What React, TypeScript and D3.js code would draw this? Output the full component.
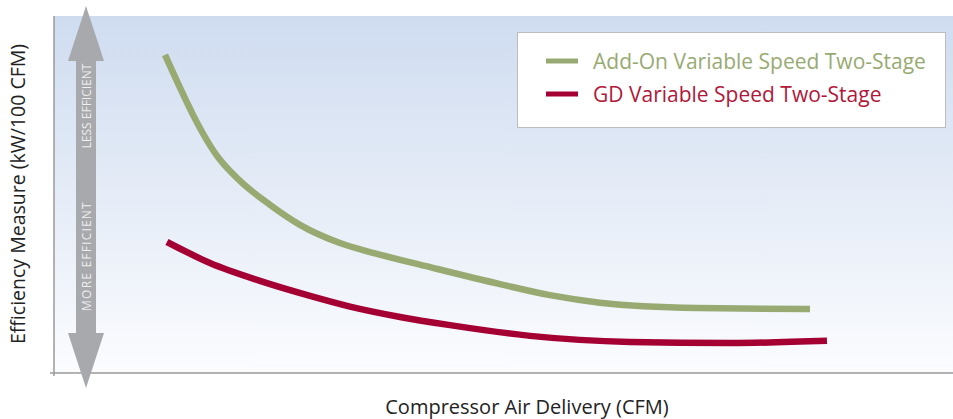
import { useEffect, useRef } from 'react'
import * as d3 from 'd3'

// values (x: relative CFM 0-100, y: relative kW/100 CFM 0-10)
const addOnX = [12.35, 18.47, 20.69, 24.03, 27.36, 31.81, 35.71, 41.27, 49.61, 55.17, 60.73, 71.52, 84.09]
const addOnY = [8.91, 5.97, 5.38, 4.71, 4.15, 3.64, 3.35, 3.0, 2.49, 2.18, 1.97, 1.82, 1.79]
const gdX = [12.57, 17.35, 22.91, 28.48, 32.93, 38.49, 44.05, 52.95, 64.07, 75.2, 85.98]
const gdY = [3.67, 3.08, 2.58, 2.16, 1.86, 1.57, 1.34, 1.04, 0.87, 0.84, 0.9]

const seriesNames = ['Add-On Variable Speed Two-Stage', 'GD Variable Speed Two-Stage']
const seriesColors = ['#98aa72', '#a50034']
const legendTextColors = ['#98aa72', '#b0173a']

export default function App() {
  const svgRef = useRef<SVGSVGElement>(null)

  useEffect(() => {
    if (!svgRef.current) return
    const width = 953
    const height = 419
    const plot = { left: 54, top: 16, right: 953, bottom: 373 }

    const svg = d3.select(svgRef.current)
    svg.selectAll('*').remove()
    svg.attr('width', width).attr('height', height)

    const defs = svg.append('defs')
    const grad = defs.append('linearGradient')
      .attr('id', 'bg')
      .attr('x1', 0).attr('y1', 0).attr('x2', 0).attr('y2', 1)
    grad.append('stop').attr('offset', '0%').attr('stop-color', '#cfdcf0')
    grad.append('stop').attr('offset', '100%').attr('stop-color', '#fbfcfe')

    const x = d3.scaleLinear().domain([0, 100]).range([plot.left, plot.right])
    const y = d3.scaleLinear().domain([0, 10]).range([plot.bottom, plot.top])

    // background
    svg.append('rect')
      .attr('x', plot.left)
      .attr('y', plot.top)
      .attr('width', plot.right - plot.left)
      .attr('height', plot.bottom - plot.top)
      .attr('fill', 'url(#bg)')

    // axes lines
    svg.append('line')
      .attr('x1', 50).attr('x2', plot.right)
      .attr('y1', plot.bottom).attr('y2', plot.bottom)
      .attr('stroke', '#9a9a9a').attr('stroke-width', 1.5)
    svg.append('line')
      .attr('x1', plot.left).attr('x2', plot.left)
      .attr('y1', plot.top).attr('y2', plot.bottom + 3)
      .attr('stroke', '#9a9a9a').attr('stroke-width', 1.5)

    // double arrow
    const ax = 86
    const top = 6
    const bot = 388
    const headH = 55
    const headW = 18
    const shaftW = 10
    const arrowPts: [number, number][] = [
      [ax, top], [ax + headW, top + headH], [ax + shaftW, top + headH],
      [ax + shaftW, bot - headH], [ax + headW, bot - headH], [ax, bot],
      [ax - headW, bot - headH], [ax - shaftW, bot - headH],
      [ax - shaftW, top + headH], [ax - headW, top + headH],
    ]
    svg.append('path')
      .attr('d', d3.line()(arrowPts) + 'Z')
      .attr('fill', '#a7a9ac')

    const arrowText = (label: string, cy: number, spacing: number) => {
      svg.append('text')
        .text(label)
        .attr('transform', `translate(${ax + 4.5},${cy}) rotate(-90)`)
        .attr('text-anchor', 'middle')
        .attr('fill', '#eeeeee')
        .attr('font-family', 'Open Sans, sans-serif')
        .attr('font-size', '12px')
        .attr('letter-spacing', `${spacing}px`)
    }
    arrowText('LESS EFFICIENT', 106, 0)
    arrowText('MORE EFFICIENT', 256, 1.2)

    // series lines
    const line = d3.line<[number, number]>()
      .x(d => x(d[0]))
      .y(d => y(d[1]))
      .curve(d3.curveMonotoneX)

    const series = [
      addOnX.map((v, i) => [v, addOnY[i]] as [number, number]),
      gdX.map((v, i) => [v, gdY[i]] as [number, number]),
    ]
    series.forEach((s, i) => {
      svg.append('path')
        .datum(s)
        .attr('d', line)
        .attr('fill', 'none')
        .attr('stroke', seriesColors[i])
        .attr('stroke-width', 6.5)
    })

    // legend
    const lg = svg.append('g')
    lg.append('rect')
      .attr('x', 517.5).attr('y', 32.5)
      .attr('width', 428).attr('height', 95)
      .attr('fill', '#ffffff')
      .attr('stroke', '#bdbdbd').attr('stroke-width', 1)
    seriesNames.forEach((name, i) => {
      const ly = 61 + i * 33
      lg.append('line')
        .attr('x1', 546).attr('x2', 578)
        .attr('y1', ly).attr('y2', ly)
        .attr('stroke', seriesColors[i]).attr('stroke-width', 5)
      lg.append('text')
        .text(name)
        .attr('x', 593).attr('y', ly + 8)
        .attr('fill', legendTextColors[i])
        .attr('font-family', 'Open Sans, sans-serif')
        .attr('font-size', '21px')
    })

    // axis titles
    svg.append('text')
      .text('Efficiency Measure (kW/100 CFM)')
      .attr('transform', `translate(25,194) rotate(-90)`)
      .attr('text-anchor', 'middle')
      .attr('fill', '#222')
      .attr('font-family', 'Open Sans, sans-serif')
      .attr('font-size', '19.5px')
    svg.append('text')
      .text('Compressor Air Delivery (CFM)')
      .attr('x', 527).attr('y', 414)
      .attr('text-anchor', 'middle')
      .attr('fill', '#222')
      .attr('font-family', 'Open Sans, sans-serif')
      .attr('font-size', '20px')
  }, [])

  return (
    <svg ref={svgRef} style={{ position: 'absolute', left: 0, top: 0 }}></svg>
  )
}
